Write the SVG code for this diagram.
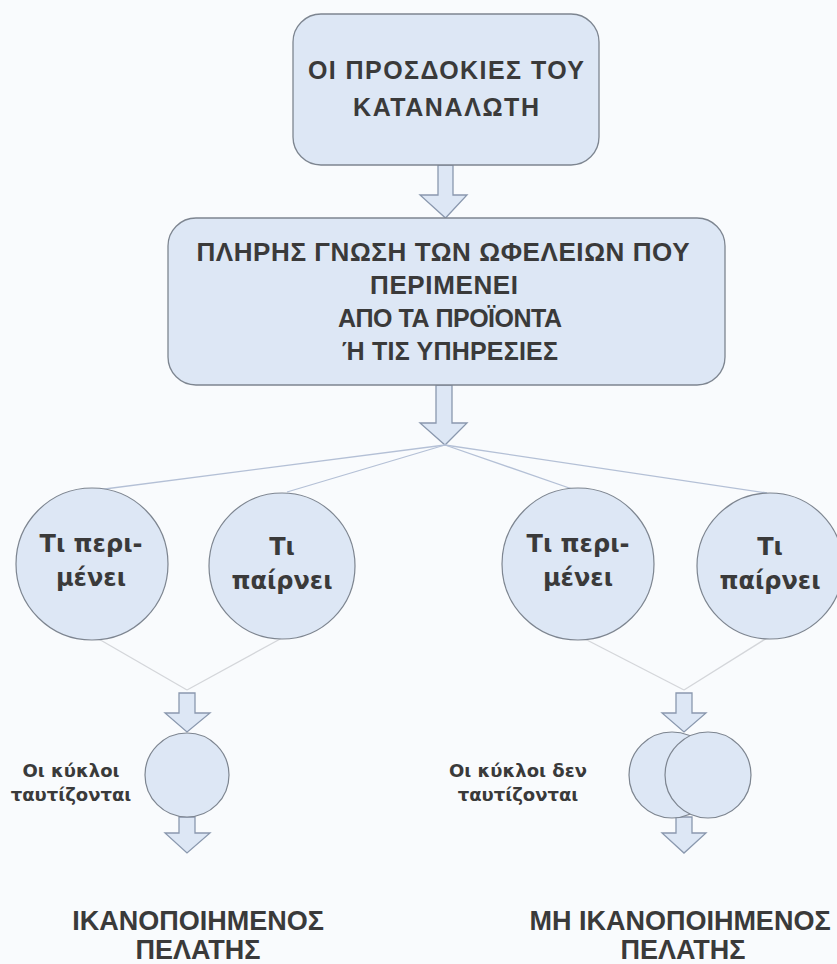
<svg xmlns="http://www.w3.org/2000/svg" width="837" height="964" viewBox="0 0 837 964">
<style>
.box{fill:#dde7f5;stroke:#7d8590;stroke-width:1.3}
.circ{fill:#dde7f5;stroke:#7d8590;stroke-width:1.2}
.arr{fill:#dde7f5;stroke:#8a98ae;stroke-width:1.3;stroke-linejoin:miter}
.t{font-family:"Liberation Sans",Arial,sans-serif;font-weight:bold;fill:#3a3a3a;text-anchor:middle}
.v{font-family:"DejaVu Sans",Verdana,sans-serif;font-weight:bold;fill:#3a3a3a;text-anchor:middle}
.lnT{stroke:#b4c0d6;stroke-width:1.3;fill:none}
.lnB{stroke:#d4d6da;stroke-width:1.3;fill:none}
</style>
<rect width="837" height="964" fill="#f9fbfd"/>
<g id="connectors">
<path class="arr" d="M438,165 L453,165 L453,195 L467,195 L445.5,218 L420,195 L438,195 Z"/>
<path class="arr" d="M436,385 L452,385 L452,423 L467,423 L445,445 L420,423 L436,423 Z"/>
<line class="lnT" x1="445" y1="445" x2="97" y2="490"/>
<line class="lnT" x1="445" y1="445" x2="287" y2="492"/>
<line class="lnT" x1="445" y1="445" x2="575" y2="490"/>
<line class="lnT" x1="445" y1="445" x2="767" y2="493"/>
<line class="lnB" x1="97" y1="638" x2="187" y2="690"/>
<line class="lnB" x1="282" y1="638" x2="187" y2="690"/>
<line class="lnB" x1="583" y1="638" x2="684" y2="690"/>
<line class="lnB" x1="767" y1="638" x2="684" y2="690"/>
<path class="arr" d="M179,693 L195,693 L195,713 L210,713 L187,732 L165,713 L179,713 Z"/>
<path class="arr" d="M179,817 L195,817 L195,833 L210,833 L187,853 L165,833 L179,833 Z"/>
<path class="arr" d="M676,693 L692,693 L692,713 L706,713 L684,732 L662,713 L676,713 Z"/>
<path class="arr" d="M676,817 L692,817 L692,833 L706,833 L684,853 L662,833 L676,833 Z"/>
</g>
<g id="node-expectations">
<rect class="box" x="293" y="14" width="306" height="151" rx="28"/>
<text class="t" x="446" y="79" font-size="25" textLength="276" lengthAdjust="spacing">ΟΙ ΠΡΟΣΔΟΚΙΕΣ ΤΟΥ</text>
<text class="t" x="446" y="116" font-size="25" textLength="186" lengthAdjust="spacing">ΚΑΤΑΝΑΛΩΤΗ</text>
</g>
<g id="node-knowledge">
<rect class="box" x="168" y="218" width="557" height="167" rx="28"/>
<text class="t" x="443" y="261" font-size="26" textLength="493" lengthAdjust="spacing">ΠΛΗΡΗΣ ΓΝΩΣΗ ΤΩΝ ΩΦΕΛΕΙΩΝ ΠΟΥ</text>
<text class="t" x="444" y="294" font-size="26" textLength="148" lengthAdjust="spacing">ΠΕΡΙΜΕΝΕΙ</text>
<text class="t" x="450" y="327" font-size="25" textLength="224" lengthAdjust="spacing">ΑΠΟ ΤΑ ΠΡΟΪΟΝΤΑ</text>
<text class="t" x="450" y="360" font-size="25" textLength="216" lengthAdjust="spacing">Ή ΤΙΣ ΥΠΗΡΕΣΙΕΣ</text>
</g>
<g id="node-c1">
<circle class="circ" cx="92" cy="564" r="76"/>
<text class="v" x="91" y="552" font-size="24">Τι περι-</text>
<text class="v" x="91" y="586" font-size="24">μένει</text>
</g>
<g id="node-c2">
<circle class="circ" cx="282" cy="566" r="73"/>
<text class="v" x="282" y="555" font-size="24">Τι</text>
<text class="v" x="282" y="589" font-size="24">παίρνει</text>
</g>
<g id="node-c3">
<circle class="circ" cx="578" cy="564" r="76"/>
<text class="v" x="578" y="552" font-size="24">Τι περι-</text>
<text class="v" x="578" y="586" font-size="24">μένει</text>
</g>
<g id="node-c4">
<circle class="circ" cx="770" cy="566" r="73"/>
<text class="v" x="770" y="555" font-size="24">Τι</text>
<text class="v" x="770" y="589" font-size="24">παίρνει</text>
</g>
<g id="node-match">
<circle class="circ" cx="187" cy="775" r="42"/>
<text class="v" x="71" y="777" font-size="18">Οι κύκλοι</text>
<text class="v" x="71" y="801" font-size="18">ταυτίζονται</text>
</g>
<g id="node-mismatch">
<circle class="circ" cx="672" cy="775" r="43"/>
<circle class="circ" cx="708" cy="775" r="43"/>
<text class="v" x="518" y="777" font-size="18">Οι κύκλοι δεν</text>
<text class="v" x="518" y="801" font-size="18">ταυτίζονται</text>
</g>
<g id="node-satisfied">
<text class="t" x="198" y="930" font-size="27">ΙΚΑΝΟΠΟΙΗΜΕΝΟΣ</text>
<text class="t" x="198" y="959" font-size="27">ΠΕΛΑΤΗΣ</text>
</g>
<g id="node-unsatisfied">
<text class="t" x="680" y="930" font-size="27">ΜΗ ΙΚΑΝΟΠΟΙΗΜΕΝΟΣ</text>
<text class="t" x="683" y="959" font-size="27">ΠΕΛΑΤΗΣ</text>
</g>
</svg>
